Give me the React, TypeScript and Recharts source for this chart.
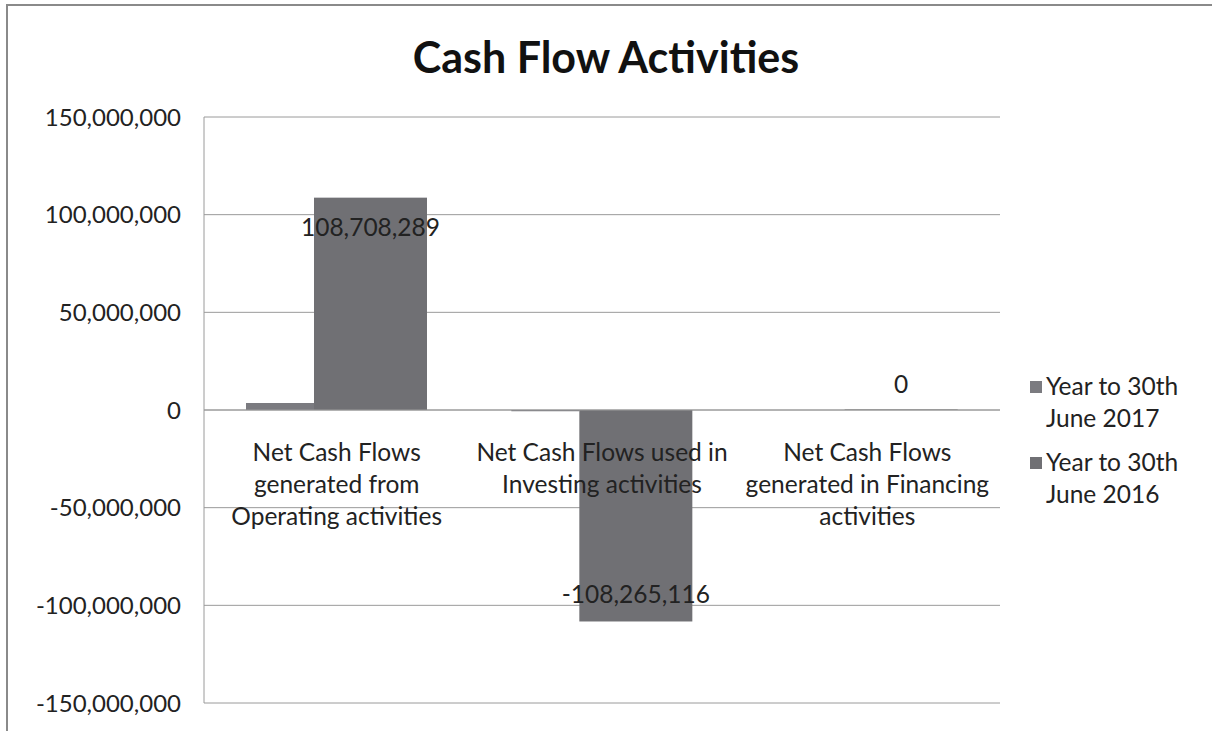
import React from "react";
import { BarChart, Bar, XAxis, YAxis, CartesianGrid, Legend, ReferenceLine } from "recharts";

const categories = [
  "Net Cash Flows generated from Operating activities",
  "Net Cash Flows used in Investing activities",
  "Net Cash Flows generated in Financing activities",
];
const categoryLines = [
  ["Net Cash Flows", "generated from", "Operating activities"],
  ["Net Cash Flows used in", "Investing activities"],
  ["Net Cash Flows", "generated in Financing", "activities"],
];
const series2017 = [3600000, -600000, 0];
const series2016 = [108708289, -108265116, 0];
const seriesNames = ["Year to 30th June 2017", "Year to 30th June 2016"];
const legendLines = [["Year to 30th", "June 2017"], ["Year to 30th", "June 2016"]];
const yTicks = [-150000000, -100000000, -50000000, 0, 50000000, 100000000, 150000000];

const data = categories.map((c, i) => ({ name: c, idx: i, y2017: series2017[i], y2016: series2016[i] }));

const FONT = "Lato, 'Open Sans', sans-serif";
const TEXT = "#222";
const C2017 = "#7b7b80";
const C2016 = "#707074";
const FS = 24.5;

const W = 1212;
const H = 731;
const TOP = 117;
const BOTTOM = 703;
const PLOT_H = BOTTOM - TOP;

const fmt = (v: number) => Number(v).toLocaleString("en-US");

const CatTick = (props: any) => {
  const { x, y, payload } = props;
  const zeroY = TOP + PLOT_H / 2; // zero sits mid-domain
  const lines = categoryLines[payload.index] || [String(payload.value)];
  const shift = zeroY - (y as number);
  return (
    <g transform={`translate(${x},${y + shift})`}>
      {lines.map((l, i) => (
        <text key={i} x={0} y={51 + i * 32} textAnchor="middle" fill={TEXT} fontSize={FS} fontFamily={FONT}>
          {l}
        </text>
      ))}
    </g>
  );
};

const ValueLabel = (props: any) => {
  const { x, y, width, height, value } = props;
  const h = height || 0;
  const top = Math.min(y, y + h);
  const bottom = Math.max(y, y + h);
  let cy: number;
  if (value > 0) cy = top + 30;
  else if (value < 0) cy = bottom - 27;
  else cy = top - 25;
  return (
    <text x={x + width / 2} y={cy} dy="0.35em" textAnchor="middle" fill={TEXT} fontSize={FS} fontFamily={FONT}>
      {fmt(value)}
    </text>
  );
};

const LegendContent = () => (
  <div style={{ fontFamily: FONT, fontSize: FS, color: TEXT, lineHeight: "32px" }}>
    {seriesNames.map((n, i) => (
      <div key={n} style={{ display: "flex", alignItems: "flex-start", marginBottom: i === 0 ? 12 : 0 }} title={n}>
        <div style={{ width: 12, height: 12, background: i === 0 ? C2017 : C2016, marginTop: 11, marginRight: 4 }} />
        <div>
          {legendLines[i].map((l) => (
            <div key={l}>{l}</div>
          ))}
        </div>
      </div>
    ))}
  </div>
);

export default function App() {
  return (
    <div style={{ position: "absolute", left: 0, top: 0, width: W, height: H, background: "#fff", overflow: "hidden" }}>
      <div
        style={{
          position: "absolute",
          left: 6,
          top: 4,
          width: W,
          height: H,
          borderLeft: "2px solid #8a8a8a",
          borderTop: "2px solid #8a8a8a",
        }}
      />
      <div
        style={{
          position: "absolute",
          left: 0,
          width: W,
          top: 30,
          textAlign: "center",
          fontFamily: FONT,
          fontWeight: 700,
          fontSize: 43,
          color: "#111",
          lineHeight: "54px",
        }}
      >
        Cash Flow Activities
      </div>
      <div style={{ position: "absolute", left: 0, top: 0 }}>
        <BarChart
          width={W}
          height={H}
          data={data}
          margin={{ top: TOP, right: 32, bottom: 0, left: 0 }}
          barGap={0}
          barCategoryGap={0}
        >
          <CartesianGrid vertical={false} stroke="#9a9a9a" strokeWidth={1} />
          <XAxis
            dataKey="name"
            axisLine={false}
            tickLine={false}
            height={H - BOTTOM}
            tick={<CatTick />}
            interval={0}
          />
          <YAxis
            width={204}
            domain={[-150000000, 150000000]}
            ticks={yTicks}
            tickFormatter={fmt}
            axisLine={{ stroke: "#9a9a9a" }}
            tickLine={false}
            tickSize={0}
            tickMargin={23}
            tick={{ fill: TEXT, fontSize: 24, fontFamily: FONT }}
            interval={0}
          />
          <ReferenceLine y={0} stroke="#9a9a9a" />
          <Bar dataKey="y2017" name={seriesNames[0]} fill={C2017} barSize={68} isAnimationActive={false} />
          <Bar
            dataKey="y2016"
            name={seriesNames[1]}
            fill="#9a9a9a"
            barSize={113}
            minPointSize={1}
            isAnimationActive={false}
            shape={(p: any) => (
              <rect
                x={p.x}
                y={Math.min(p.y, p.y + p.height)}
                width={p.width}
                height={Math.abs(p.height)}
                fill={p.value === 0 || (Array.isArray(p.value) && p.value[1] === 0) ? "#9a9a9a" : C2016}
              />
            )}
            label={<ValueLabel />}
          />
          <Legend
            layout="vertical"
            align="right"
            verticalAlign="top"
            content={<LegendContent />}
            wrapperStyle={{ position: "absolute", left: 1030, top: 370, width: 180 }}
          />
        </BarChart>
      </div>
    </div>
  );
}
